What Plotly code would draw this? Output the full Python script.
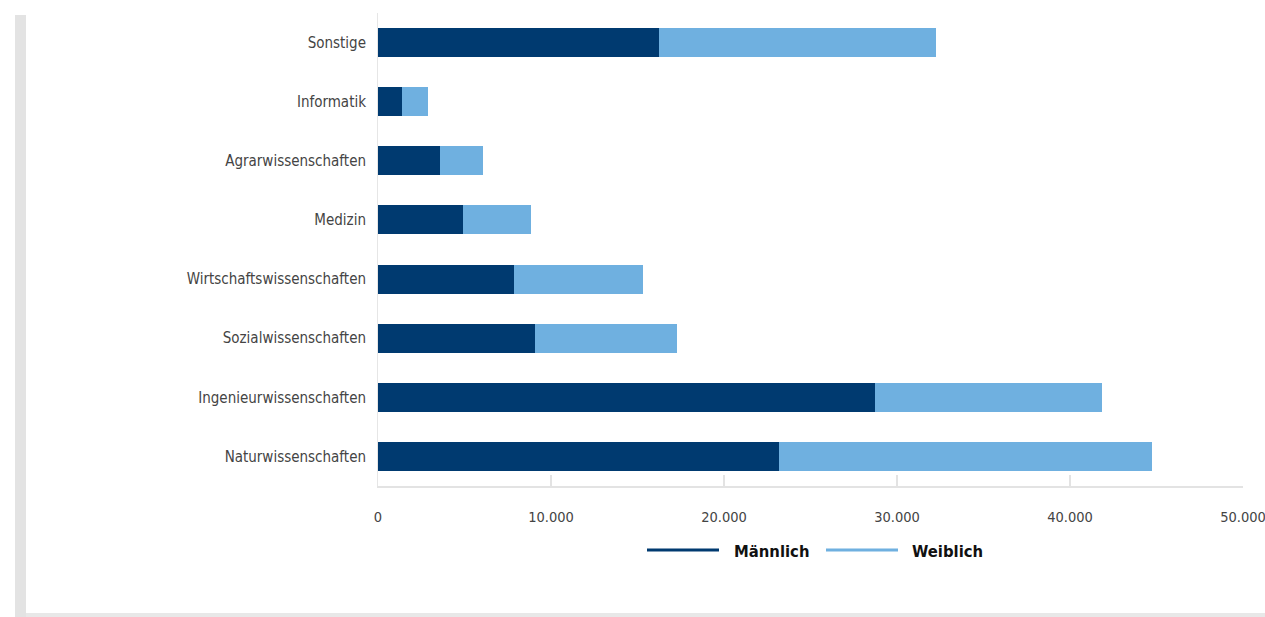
import plotly.graph_objects as go

categories = ["Naturwissenschaften", "Ingenieurwissenschaften", "Sozialwissenschaften",
              "Wirtschaftswissenschaften", "Medizin", "Agrarwissenschaften",
              "Informatik", "Sonstige"]
maennlich = [23180, 28730, 9060, 7840, 4890, 3560, 1360, 16230]
weiblich = [21560, 13140, 8220, 7470, 3940, 2490, 1505, 16030]
x_ticks = [0, 10000, 20000, 30000, 40000, 50000]
series_names = ["Männlich", "Weiblich"]
colors = ["#003a70", "#6fb0e0"]

FAMILY = "DejaVu Sans Condensed, Open Sans, sans-serif"


def mkfont(size, color):
    return dict(family=FAMILY, size=size, color=color)


fig = go.Figure()
for name, vals, col in zip(series_names, [maennlich, weiblich], colors):
    fig.add_trace(go.Bar(
        y=categories, x=vals, name=name, orientation="h",
        marker=dict(color=col, line=dict(width=0)),
        width=0.49, showlegend=False,
    ))

# body margin removed below, so the figure fills the whole window
OFF = 0
W, H = 1265 - OFF, 617 - OFF
ml, mr, mt, mb = 378 - OFF, 22, 13 - OFF, H - (486 - OFF)
PW, PH = W - ml - mr, H - mt - mb


def fx(px):
    return (px - OFF - ml) / PW


def fy(py):
    return (H - mb - (py - OFF)) / PH


fig.update_layout(
    width=W, height=H,
    barmode="stack",
    separators=",.",
    plot_bgcolor="white", paper_bgcolor="white",
    margin=dict(l=ml, r=mr, t=mt, b=mb, pad=0, autoexpand=False),
    font=mkfont(15, "#444444"),
    xaxis=dict(
        range=[0, 50001], tickvals=x_ticks, tickformat=",d",
        showgrid=False, zeroline=False, automargin=False,
        showline=True, linecolor="#e3e3e3", linewidth=2,
        ticks="inside", ticklen=11, tickcolor="#e3e3e3", tickwidth=2,
        ticklabelstandoff=17, ticklabeloverflow="allow",
        tickfont=mkfont(14.5, "#444444"),
    ),
    yaxis=dict(
        categoryorder="array", categoryarray=categories,
        range=[-0.5, 7.5], automargin=False,
        showgrid=False, zeroline=False,
        showline=True, linecolor="#e6e6e6", linewidth=1,
        ticks="", ticklabelstandoff=8,
        tickfont=mkfont(15, "#444444"),
    ),
)

shapes = [
    dict(type="rect", xref="paper", yref="paper",
         x0=fx(15), x1=fx(26), y0=fy(617), y1=fy(15),
         fillcolor="#e3e3e3", line=dict(width=0), layer="below"),
    dict(type="rect", xref="paper", yref="paper",
         x0=fx(26), x1=fx(1265), y0=fy(617), y1=fy(613),
         fillcolor="#e8e8e8", line=dict(width=0), layer="below"),
]

legend_items = [(647, 719, 732), (826, 898, 910)]
ly = 550
for (x0, x1, tx), name, col in zip(legend_items, series_names, colors):
    shapes.append(dict(type="line", xref="paper", yref="paper",
                       x0=fx(x0), x1=fx(x1), y0=fy(ly), y1=fy(ly),
                       line=dict(color=col, width=3)))
    fig.add_annotation(xref="paper", yref="paper",
                       x=fx(tx), y=fy(ly + 1),
                       text="<b>" + name + "</b>", showarrow=False,
                       xanchor="left", yanchor="middle",
                       font=mkfont(16.5, "#111111"))

fig.update_layout(shapes=shapes)
fig.write_html("out.html",
               config={"displayModeBar": False},
               post_script="document.body.style.margin='0';document.body.style.overflow='hidden';")
